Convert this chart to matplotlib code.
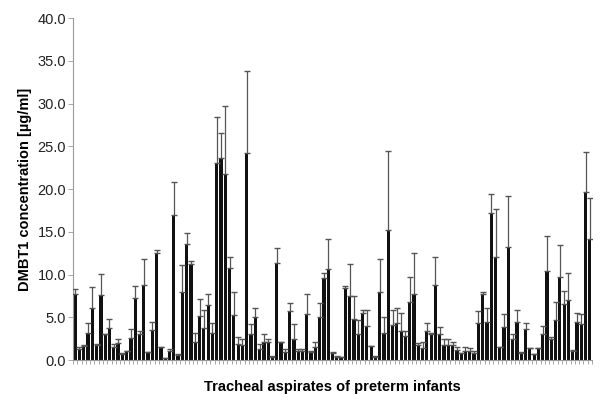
import numpy as np
import matplotlib.pyplot as plt

plt.rcParams['font.family'] = ['Liberation Sans', 'DejaVu Sans']

# DMBT1 concentration per sample (mean) and upper error (SD)
values = [7.7, 1.3, 1.6, 3.2, 6.1, 1.8, 7.6, 3.0, 3.7, 1.5,
          2.0, 0.7, 1.0, 2.6, 7.3, 3.1, 8.8, 0.9, 3.5, 12.5,
          1.5, 0.2, 1.1, 17.0, 0.6, 7.9, 13.6, 11.2, 2.1, 5.1,
          3.7, 6.4, 3.2, 23.0, 23.6, 21.7, 10.8, 5.3, 1.9, 1.7,
          24.2, 3.0, 5.0, 1.25, 2.1, 2.1, 0.4, 11.4, 2.1, 0.9,
          5.7, 2.5, 1.1, 1.0, 5.4, 0.9, 1.5, 5.0, 9.6, 10.7,
          0.8, 0.4, 0.3, 8.4, 7.5, 4.8, 3.1, 5.5, 4.0, 1.6,
          0.4, 8.0, 3.2, 15.2, 4.1, 4.3, 3.4, 2.85, 6.8, 7.7,
          1.8, 1.4, 3.4, 3.1, 8.75, 3.0, 1.8, 1.7, 1.7, 1.2,
          0.8, 1.05, 1.0, 0.85, 4.3, 7.7, 4.5, 17.2, 12.1, 1.5,
          3.9, 13.2, 2.4, 4.4, 0.85, 3.6, 1.45, 0.7, 1.45, 3.0,
          10.4, 2.4, 4.7, 9.7, 6.5, 7.0, 1.0, 4.4, 4.2, 19.6,
          14.2]
errors = [0.6, 0.2, 0.1, 1.1, 2.4, 0.1, 2.5, 0.1, 1.1, 0.4,
          0.5, 0.1, 0.05, 1.0, 1.4, 0.3, 3.0, 0.0, 1.0, 0.4,
          0.0, 0.0, 0.15, 3.8, 0.15, 3.2, 1.3, 0.4, 1.1, 2.0,
          2.1, 1.3, 1.1, 5.4, 2.9, 8.0, 1.2, 2.6, 0.8, 0.7,
          9.6, 1.2, 1.1, 0.65, 1.0, 0.4, 0.1, 1.7, 0.05, 0.35,
          1.0, 1.7, 0.15, 0.25, 2.3, 0.15, 0.6, 1.7, 0.6, 3.4,
          0.1, 0.05, 0.0, 0.2, 3.7, 2.7, 1.6, 0.4, 1.8, 0.05,
          0.05, 3.8, 1.8, 9.2, 1.8, 1.8, 2.1, 0.55, 2.9, 4.8,
          0.2, 0.7, 0.9, 0.1, 3.35, 0.9, 0.7, 0.8, 0.4, 0.3,
          0.05, 0.45, 0.4, 0.25, 1.4, 0.3, 1.6, 2.2, 5.6, 0.0,
          1.45, 6.0, 0.6, 1.5, 0.05, 0.7, 0.0, 0.05, 0.0, 1.0,
          4.1, 0.3, 2.1, 3.7, 1.6, 3.2, 0.2, 1.1, 1.2, 4.7,
          4.8]
yticks = [0, 5, 10, 15, 20, 25, 30, 35, 40]

x = np.arange(len(values))

fig = plt.figure(figsize=(6, 4.12), dpi=100)
ax = fig.add_axes([0.1217, 0.1262, 0.865, 0.8301])

ax.bar(x, values, width=0.75, color='#111111', zorder=2)
ax.errorbar(x, values, yerr=[np.zeros(len(values)), errors], fmt='none',
            ecolor='#555555', elinewidth=0.9, capsize=2.0, capthick=1.0, zorder=3)

ax.set_xlim(-0.5, len(values) - 0.5)
ax.set_ylim(0, 40)
ax.set_yticks(yticks)
ax.set_yticklabels([f'{v:.1f}' for v in yticks], fontsize=10.5, color='#222222')
ax.set_xticks(np.arange(-0.5, len(values), 1))
ax.set_xticklabels([])
ax.tick_params(axis='x', length=3, width=0.6, color='#999999')
ax.tick_params(axis='y', length=3.5, width=0.6, color='#999999', pad=1.5)

for side in ['top', 'right']:
    ax.spines[side].set_visible(False)
for side in ['left', 'bottom']:
    ax.spines[side].set_color('#999999')
    ax.spines[side].set_linewidth(0.8)

ax.set_ylabel('DMBT1 concentration [µg/ml]', fontsize=10.5, fontweight='bold', labelpad=4)
ax.set_xlabel('Tracheal aspirates of preterm infants', fontsize=10.5, fontweight='bold', labelpad=8)

fig.savefig('out.png', dpi=100)
